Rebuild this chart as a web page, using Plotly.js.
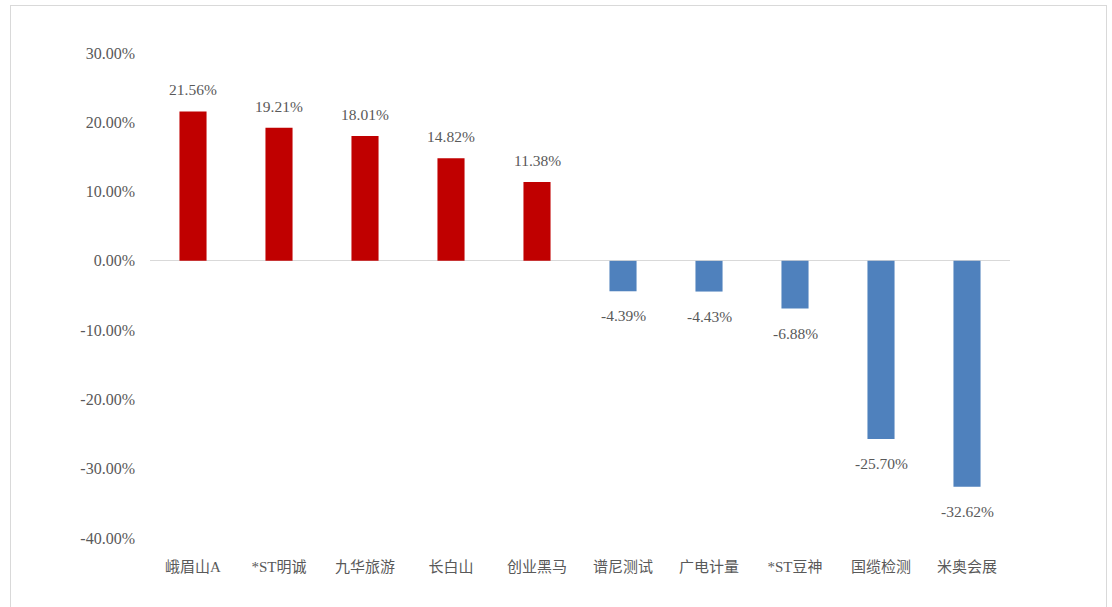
<!DOCTYPE html>
<html>
<head>
<meta charset="utf-8">
<script src="https://cdn.plot.ly/plotly-3.0.1.min.js"></script>
<style>
html,body{margin:0;padding:0;background:#fff;}
#chart{width:1112px;height:607px;}
#frame{position:absolute;left:10px;top:5px;width:1095px;height:640px;border:1px solid #d9d9d9;pointer-events:none;}
</style>
</head>
<body>
<div id="chart"></div>
<div id="frame"></div>
<script>
const categories = ["峨眉山A", "*ST明诚", "九华旅游", "长白山", "创业黑马", "谱尼测试", "广电计量", "*ST豆神", "国缆检测", "米奥会展"];
const values = [21.56, 19.21, 18.01, 14.82, 11.38, -4.39, -4.43, -6.88, -25.70, -32.62];
const yTicks = [30, 20, 10, 0, -10, -20, -30, -40];

const numFont = "'Liberation Serif', 'Times New Roman', 'Noto Sans CJK SC', serif";
const catFont = "'Liberation Serif', 'Noto Sans CJK SC', serif";
const textColor = "#595959";

const colors = values.map(v => v >= 0 ? "#C00000" : "#4F81BD");

const trace = {
  type: "bar",
  x: categories,
  y: values,
  marker: {color: colors, line: {width: 0}},
  hoverinfo: "none"
};

const annotations = categories.map((c, i) => ({
  x: c,
  y: values[i],
  xref: "x",
  yref: "y",
  text: values[i].toFixed(2) + "%",
  showarrow: false,
  yanchor: values[i] >= 0 ? "bottom" : "top",
  yshift: values[i] >= 0 ? 11 : -14,
  font: {family: numFont, size: 15.5, color: textColor}
}));

const layout = {
  width: 1112,
  height: 607,
  margin: {l: 150, r: 102, t: 53, b: 69},
  paper_bgcolor: "#ffffff",
  plot_bgcolor: "#ffffff",
  showlegend: false,
  bargap: 0.685,
  xaxis: {
    type: "category",
    showgrid: false,
    zeroline: false,
    showline: false,
    ticks: "",
    ticklabelstandoff: 18,
    tickfont: {family: catFont, size: 15, color: textColor}
  },
  yaxis: {
    range: [-40, 30],
    tickvals: yTicks,
    ticktext: yTicks.map(v => v.toFixed(2) + "%"),
    showgrid: false,
    showline: false,
    zeroline: true,
    zerolinecolor: "#d9d9d9",
    zerolinewidth: 1,
    ticks: "",
    ticklabelstandoff: 14,
    tickfont: {family: numFont, size: 16, color: textColor}
  },
  annotations: annotations
};

Plotly.newPlot("chart", [trace], layout, {displayModeBar: false, staticPlot: true});
</script>
</body>
</html>
